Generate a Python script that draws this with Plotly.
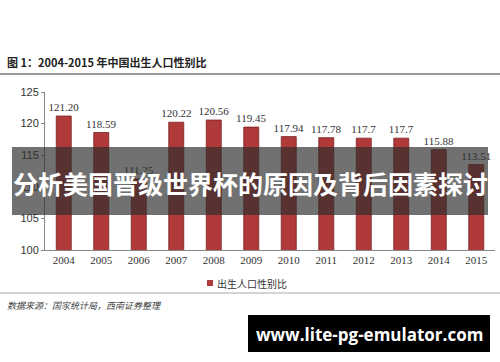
import plotly.graph_objects as go

years = ["2004", "2005", "2006", "2007", "2008", "2009", "2010", "2011", "2012", "2013", "2014", "2015"]
ratios = [121.20, 118.59, 111.25, 120.22, 120.56, 119.45, 117.94, 117.78, 117.7, 117.7, 115.88, 113.51]
labels = ["121.20", "118.59", "111.25", "120.22", "120.56", "119.45", "117.94", "117.78", "117.7", "117.7", "115.88", "113.51"]
y_ticks = [100, 105, 110, 115, 120, 125]

W, H = 500, 362
ML, MR, MT, MB = 45, 5, 92, 112
PW, PH = W - ML - MR, H - MT - MB

def px(x):
    return (x - ML) / PW

def py(y):
    return 1 - (y - MT) / PH

fig = go.Figure()
fig.add_trace(go.Bar(
    x=years, y=ratios, text=labels, textposition="outside", constraintext="none",
    textfont=dict(family="Liberation Serif", size=11, color="#333333"),
    marker=dict(color="#B03A3A", line=dict(color="#7a2222", width=0.8)),
    width=0.4, cliponaxis=False, name="出生人口性别比",
))

fig.update_layout(
    width=W, height=H, margin=dict(l=ML, r=MR, t=MT, b=MB),
    paper_bgcolor="white", plot_bgcolor="white", showlegend=False,
    bargap=0.6,
    xaxis=dict(showline=True, linecolor="#888888", linewidth=1, ticks="",
               tickfont=dict(family="Liberation Serif", size=11, color="#333333"),
               showgrid=False),
    yaxis=dict(range=[100, 125], tickvals=y_ticks, showline=True, linecolor="#888888",
               linewidth=1, ticks="outside", ticklen=3, tickcolor="#888888",
               tickfont=dict(family="Liberation Sans", size=11, color="#333333"),
               showgrid=False, zeroline=False),
)

shapes = [
    dict(type="line", xref="paper", yref="paper", x0=px(0), x1=px(500), y0=py(74), y1=py(74),
         line=dict(color="#999999", width=2)),
    dict(type="line", xref="paper", yref="paper", x0=px(0), x1=px(500), y0=py(293), y1=py(293),
         line=dict(color="#aaaaaa", width=1)),
    dict(type="rect", xref="paper", yref="paper", x0=px(12), x1=px(488), y0=py(215), y1=py(147),
         fillcolor="rgba(45,45,45,0.68)", line=dict(width=0), layer="above"),
    dict(type="rect", xref="paper", yref="paper", x0=px(248), x1=px(490), y0=py(352), y1=py(315),
         fillcolor="black", line=dict(width=0), layer="above"),
    dict(type="rect", xref="paper", yref="paper", x0=px(207), x1=px(213), y0=py(286), y1=py(280),
         fillcolor="#B03A3A", line=dict(width=0), layer="above"),
]
fig.update_layout(shapes=shapes)

ann = [
    dict(text="<b>图 1：2004-2015 年中国出生人口性别比</b>", x=px(5), y=py(62), xanchor="left", yanchor="middle",
         font=dict(family="Noto Sans CJK SC", size=11, color="#222222")),
    dict(text="出生人口性别比", x=px(215), y=py(283), xanchor="left", yanchor="middle",
         font=dict(family="Noto Sans CJK SC", size=10, color="#333333")),
    dict(text="<i>数据来源：国家统计局，西南证券整理</i>", x=px(5), y=py(305), xanchor="left", yanchor="middle",
         font=dict(family="Noto Sans CJK SC", size=9, color="#444444")),
    dict(text="<b>分析美国晋级世界杯的原因及背后因素探讨</b>", x=px(250), y=py(183), xanchor="center", yanchor="middle",
         font=dict(family="Noto Sans CJK SC", size=25, color="white")),
    dict(text="<b>www.lite-pg-emulator.com</b>", x=px(369), y=py(334), xanchor="center", yanchor="middle",
         font=dict(family="Open Sans", size=17, color="white")),
]
for a in ann:
    a.update(xref="paper", yref="paper", showarrow=False)
fig.update_layout(annotations=ann)

fig.write_html("out.html")
